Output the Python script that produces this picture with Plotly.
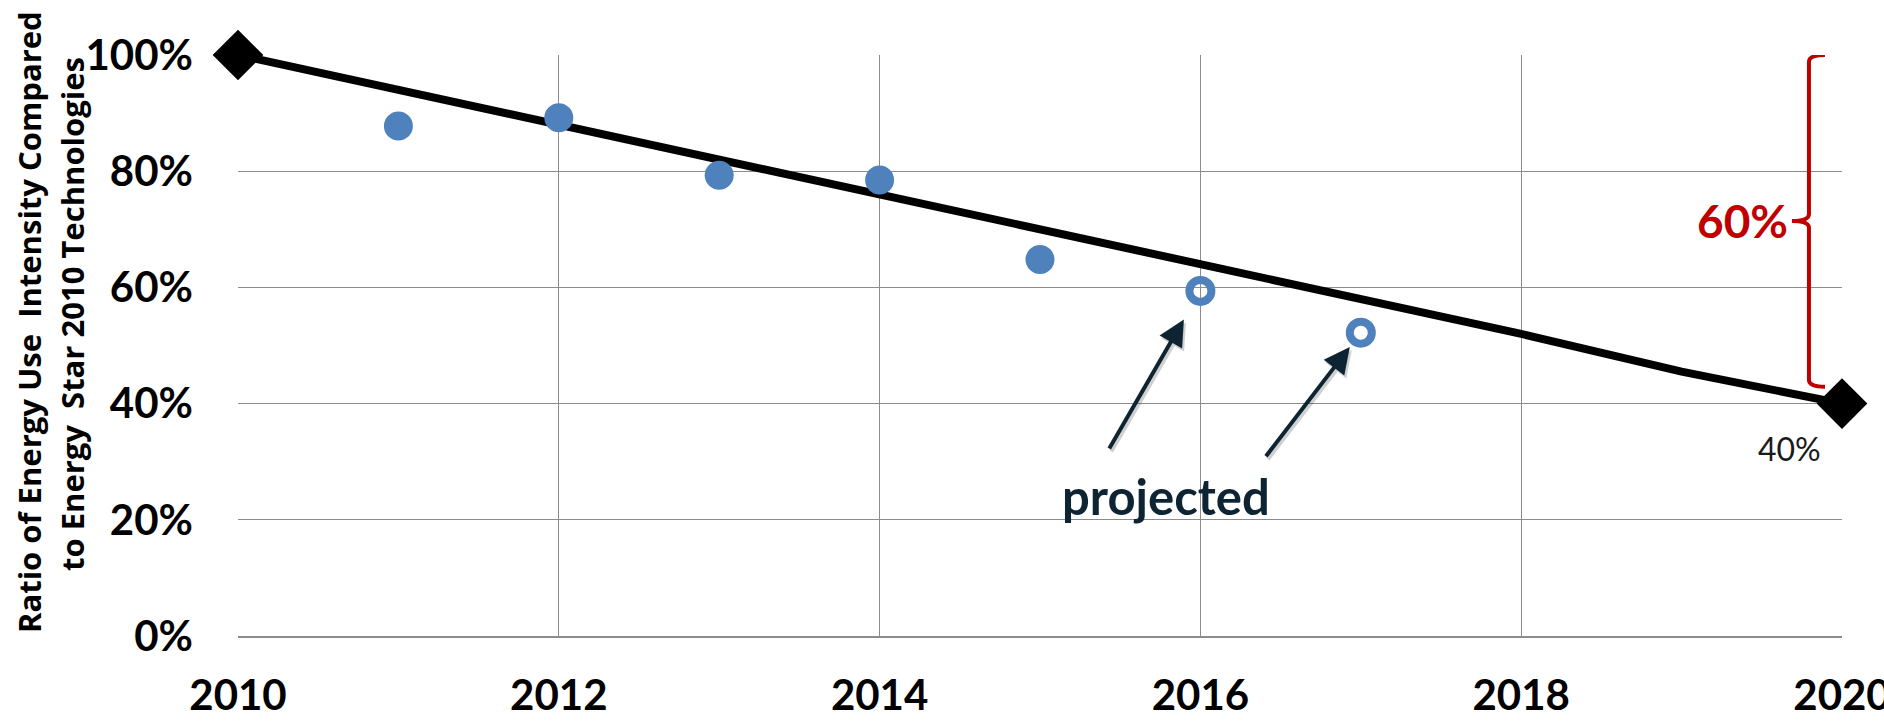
import plotly.graph_objects as go

# Target trajectory (ratio of energy use intensity vs. 2010 baseline)
target_years = [2010, 2011, 2012, 2013, 2014, 2015, 2016, 2017, 2018, 2019, 2020]
target_ratio = [1.00, 0.94, 0.88, 0.82, 0.76, 0.70, 0.64, 0.58, 0.52, 0.455, 0.40]

# Achieved results
actual_years = [2011, 2012, 2013, 2014, 2015]
actual_ratio = [0.878, 0.892, 0.793, 0.785, 0.648]

# Projected results
proj_years = [2016, 2017]
proj_ratio = [0.594, 0.522]

y_ticks = [0, 0.2, 0.4, 0.6, 0.8, 1.0]
x_ticks = [2010, 2012, 2014, 2016, 2018, 2020]

BLUE = "#4F81BD"
RED = "#C00000"
NAVY = "#0E2433"
GRID = "#8C8C8C"
FONT = "Lato"
TITLE_FONT = "Open Sans"

fig = go.Figure()

# target line
fig.add_trace(go.Scatter(
    x=target_years, y=target_ratio, mode="lines",
    line=dict(color="black", width=8),
    cliponaxis=False, showlegend=False, hoverinfo="skip"))

# diamond markers at the baseline and target years
fig.add_trace(go.Scatter(
    x=[target_years[0], target_years[-1]], y=[target_ratio[0], target_ratio[-1]],
    mode="markers",
    marker=dict(symbol="diamond", size=39, color="black", line=dict(width=0)),
    cliponaxis=False, showlegend=False))

fig.add_trace(go.Scatter(
    x=actual_years, y=actual_ratio, mode="markers",
    marker=dict(symbol="circle", size=29, color=BLUE, line=dict(width=0)),
    cliponaxis=False, showlegend=False))

fig.add_trace(go.Scatter(
    x=proj_years, y=proj_ratio, mode="markers",
    marker=dict(symbol="circle-open", size=22, color=BLUE, line=dict(width=8, color=BLUE)),
    cliponaxis=False, showlegend=False))

start_val = target_ratio[0]
end_val = target_ratio[-1]
reduction = start_val - end_val

# red bracket spanning the targeted reduction
xv, xh, xt = 2019.794, 2019.894, 2019.688
top, bot = start_val, end_val + 0.029
mid = (top + bot) / 2
ry = 0.012
path = (f"M {xh},{top} Q {xv},{top} {xv},{top - ry} "
        f"L {xv},{mid + ry} Q {xv},{mid} {xt},{mid} "
        f"Q {xv},{mid} {xv},{mid - ry} "
        f"L {xv},{bot + ry} Q {xv},{bot} {xh},{bot}")
fig.add_shape(type="path", path=path, xref="x", yref="y",
              line=dict(color=RED, width=4), layer="above")

annotations = [
    dict(x=xt, y=mid, xref="x", yref="y", text=f"{round(reduction * 100)}%",
         showarrow=False, xanchor="right", yanchor="middle", xshift=-2,
         font=dict(family=FONT, size=46, color=RED, weight="bold")),
    dict(x=target_years[-1], y=end_val, xref="x", yref="y",
         text=f"{round(end_val * 100)}%", showarrow=False,
         xanchor="center", yanchor="middle", xshift=-53, yshift=-45,
         font=dict(family=FONT, size=32, color="#1A1A1A")),
    dict(x=2015.785, y=0.241, xref="x", yref="y", text="projected",
         showarrow=False, xanchor="center", yanchor="middle",
         font=dict(family=FONT, size=49, color=NAVY, weight="bold")),
    dict(x=0, y=0, xref="paper", yref="paper", textangle=-90,
         text="Ratio of Energy Use&nbsp; Intensity Compared",
         showarrow=False, xanchor="center", yanchor="middle",
         xshift=29 - 238, yshift=636 - 322,
         font=dict(family=TITLE_FONT, size=31, color="black", weight="bold")),
    dict(x=0, y=0, xref="paper", yref="paper", textangle=-90,
         text="to Energy&nbsp; Star 2010 Technologies",
         showarrow=False, xanchor="center", yanchor="middle",
         xshift=72 - 238, yshift=636 - 314,
         font=dict(family=TITLE_FONT, size=31, color="black", weight="bold")),
]

# arrows pointing at the projected points (soft shadow underneath)
arrow_geo = [(proj_years[0], proj_ratio[0], -92, 159, 33),
             (proj_years[1], proj_ratio[1], -96, 125, 18)]
for px, py, ax, ay, so in arrow_geo:
    annotations.append(dict(x=px, y=py, xref="x", yref="y", ax=ax, ay=ay,
                            axref="pixel", ayref="pixel", text="", showarrow=True,
                            arrowhead=2, arrowsize=1.3, arrowwidth=4, standoff=so,
                            arrowcolor="rgba(0,0,0,0.18)", xshift=2, yshift=-3))
    annotations.append(dict(x=px, y=py, xref="x", yref="y", ax=ax, ay=ay,
                            axref="pixel", ayref="pixel", text="", showarrow=True,
                            arrowhead=2, arrowsize=1.3, arrowwidth=4, standoff=so,
                            arrowcolor=NAVY))

fig.update_layout(
    width=1884, height=721,
    margin=dict(l=238, r=42, t=55, b=85, autoexpand=False),
    paper_bgcolor="white", plot_bgcolor="white",
    annotations=annotations,
    xaxis=dict(range=[2010, 2020], tickvals=x_ticks, tickformat="d",
               automargin=False, ticklabeloverflow="allow",
               showgrid=True, gridcolor=GRID, gridwidth=1,
               showline=True, linecolor=GRID, linewidth=2,
               zeroline=False, ticks="", ticklabelstandoff=22,
               tickfont=dict(family=FONT, size=42, color="black", weight="bold")),
    yaxis=dict(range=[0, 1], tickvals=y_ticks, tickformat=".0%",
               automargin=False, ticklabeloverflow="allow",
               showgrid=True, gridcolor=GRID, gridwidth=1,
               zeroline=False, showline=False, ticks="", ticklabelstandoff=44,
               tickfont=dict(family=FONT, size=42, color="black", weight="bold")),
)

fig.write_html("out.html")
